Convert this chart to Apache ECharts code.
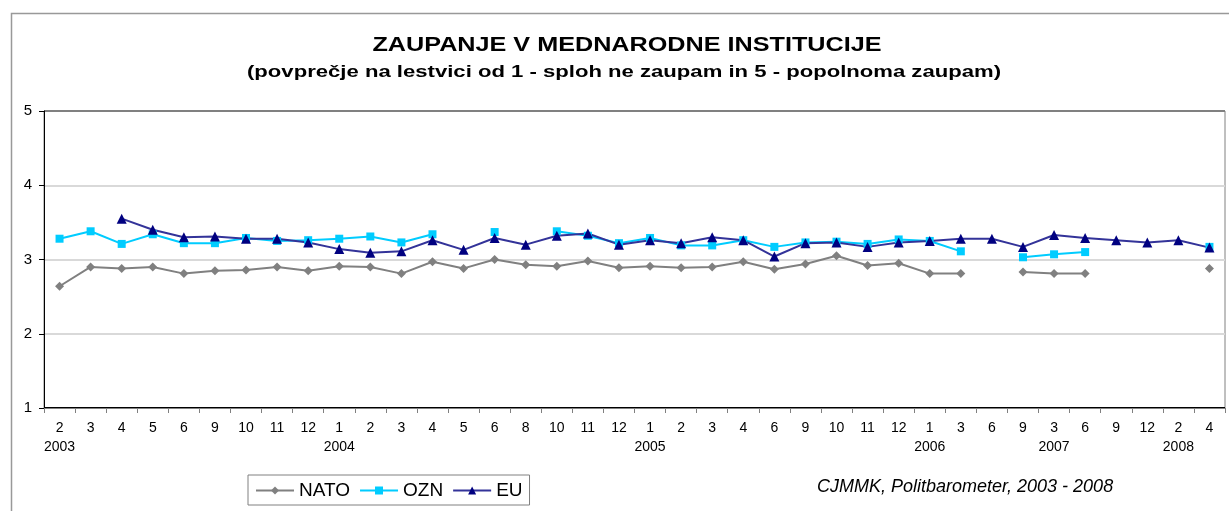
<!DOCTYPE html>
<html>
<head>
<meta charset="utf-8">
<script src="https://cdn.jsdelivr.net/npm/echarts@6/dist/echarts.min.js"></script>
<style>
  html, body { margin: 0; padding: 0; background: #fff; }
  #chart { width: 1229px; height: 511px; }
</style>
</head>
<body>
<div id="chart"></div>
<script>
// months of each survey, with the year shown under the first survey of that year
const months = ['2','3','4','5','6','9','10','11','12','1','2','3','4','5','6','8','10','11','12','1',
                '2','3','4','6','9','10','11','12','1','3','6','9','3','6','9','12','2','4'];
const yearAt = { 0: '2003', 9: '2004', 19: '2005', 28: '2006', 32: '2007', 36: '2008' };

const nato = [2.64,2.90,2.88,2.90,2.81,2.85,2.86,2.90,2.85,2.91,
              2.90,2.81,2.97,2.88,3.00,2.93,2.91,2.98,2.89,2.91,
              2.89,2.90,2.97,2.87,2.94,3.05,2.92,2.95,2.81,2.81,
              null,2.83,2.81,2.81,null,null,null,2.88];
const ozn  = [3.28,3.38,3.21,3.34,3.22,3.22,3.29,3.25,3.26,3.28,
              3.31,3.23,3.34,null,3.37,null,3.38,3.32,3.22,3.29,
              3.19,3.19,3.26,3.17,3.23,3.24,3.21,3.27,3.25,3.11,
              null,3.03,3.07,3.10,null,null,null,3.17];
const eu   = [null,null,3.55,3.40,3.30,3.31,3.28,3.28,3.23,3.14,
              3.09,3.11,3.26,3.13,3.29,3.20,3.32,3.35,3.20,3.26,
              3.22,3.30,3.26,3.04,3.22,3.23,3.17,3.23,3.25,3.28,
              3.28,3.17,3.33,3.29,3.26,3.23,3.26,3.16];

const titleText = 'ZAUPANJE V MEDNARODNE INSTITUCIJE';
const subText = '(povprečje na lestvici od 1 - sploh ne zaupam in 5 - popolnoma zaupam)';
const sourceText = 'CJMMK, Politbarometer, 2003 - 2008';

const font = '"Liberation Sans", Arial, sans-serif';
const chart = echarts.init(document.getElementById('chart'));

chart.setOption({
  animation: false,
  backgroundColor: '#fff',
  textStyle: { fontFamily: font },
  grid: { left: 44, right: 4, top: 111, bottom: 103, show: true, borderColor: '#808080', borderWidth: 1 },
  legend: {
    left: 248, top: 475,
    itemWidth: 38, itemHeight: 10, itemGap: 9,
    padding: [6, 7, 5, 7],
    borderColor: '#808080', borderWidth: 1,
    textStyle: { fontFamily: font, fontSize: 19, color: '#000', padding: [0, 0, 0, 0] },
    data: ['NATO', 'OZN', 'EU']
  },
  xAxis: {
    type: 'category',
    data: months,
    boundaryGap: true,
    axisLine: { lineStyle: { color: '#808080' } },
    axisTick: { show: true, length: 5, lineStyle: { color: '#808080' } },
    axisLabel: {
      interval: 0, color: '#000', fontSize: 14, margin: 11, lineHeight: 19,
      formatter: (v, i) => yearAt[i] ? v + '\n' + yearAt[i] : v
    }
  },
  yAxis: {
    type: 'value',
    min: 1, max: 5, interval: 1,
    axisLine: { show: true, lineStyle: { color: '#000' } },
    axisTick: { show: true, length: 5, lineStyle: { color: '#000' } },
    axisLabel: { color: '#000', fontSize: 15, margin: 12 },
    splitLine: { lineStyle: { color: ['#000', '#d9d9d9', '#d9d9d9', '#d9d9d9', '#808080'], width: 2 } }
  },
  series: [
    {
      name: 'NATO', type: 'line', data: nato,
      symbol: 'diamond', symbolSize: 9,
      lineStyle: { color: '#808080', width: 2 },
      itemStyle: { color: '#808080' }
    },
    {
      name: 'OZN', type: 'line', data: ozn,
      symbol: 'rect', symbolSize: 8,
      lineStyle: { color: '#00ccff', width: 2 },
      itemStyle: { color: '#00ccff' }
    },
    {
      name: 'EU', type: 'line', data: eu,
      symbol: 'triangle', symbolSize: 10,
      lineStyle: { color: '#333399', width: 2 },
      itemStyle: { color: '#000080' }
    }
  ],
  graphic: [
    {
      type: 'rect', left: 9, top: 11, silent: true,
      shape: { width: 1250, height: 560 },
      style: { fill: null, stroke: '#999', lineWidth: 1.5 }
    },
    {
      // the original text is set wide, so stretch it a little
      type: 'text', x: 627, y: 45, scaleX: 1.2,
      style: { text: titleText, font: 'bold 21px ' + font, fill: '#000', align: 'center', verticalAlign: 'middle' }
    },
    {
      type: 'text', x: 624, y: 72, scaleX: 1.3,
      style: { text: subText, font: 'bold 17px ' + font, fill: '#000', align: 'center', verticalAlign: 'middle' }
    },
    {
      type: 'text', x: 817, y: 487,
      style: { text: sourceText, font: 'italic 18px ' + font, fill: '#000', verticalAlign: 'middle' }
    }
  ]
});
</script>
</body>
</html>
